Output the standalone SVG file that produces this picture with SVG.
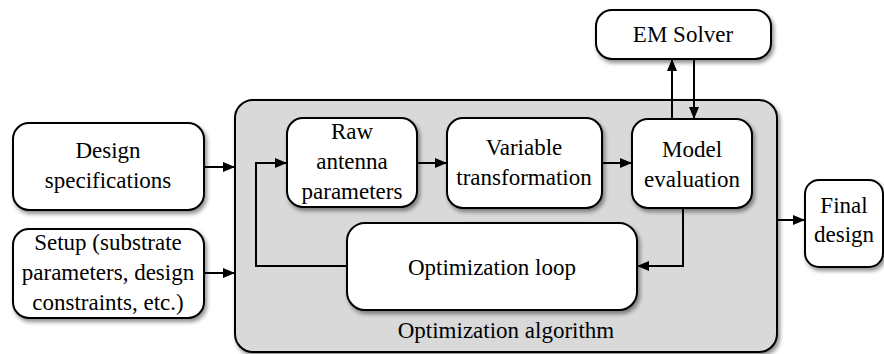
<svg xmlns="http://www.w3.org/2000/svg" width="884" height="354" viewBox="0 0 884 354">
  <style>
    .box { fill: #ffffff; stroke: #000000; stroke-width: 2; filter: url(#shadow); }
    .group { fill: #d9d9d9; stroke: #000000; stroke-width: 2; filter: url(#shadow); }
    .lbl { font-family: "Liberation Serif", "Times New Roman", serif; font-size: 23px; fill: #000000; text-anchor: middle; }
    .wire { fill: none; stroke: #000000; stroke-width: 2; }
    .arrow { marker-end: url(#head); }
  </style>
  <defs>
    <!-- soft drop shadow under every box -->
    <filter id="shadow" x="-10%" y="-10%" width="130%" height="130%">
      <feGaussianBlur in="SourceAlpha" stdDeviation="2"/>
      <feOffset dx="2" dy="3" result="blur"/>
      <feComponentTransfer><feFuncA type="linear" slope="0.45"/></feComponentTransfer>
      <feMerge><feMergeNode/><feMergeNode in="SourceGraphic"/></feMerge>
    </filter>
    <marker id="head" viewBox="0 0 12 10" refX="12" refY="5" markerWidth="12" markerHeight="10" markerUnits="userSpaceOnUse" orient="auto">
      <path d="M0,0 L12,5 L0,10 Z" fill="#000000"/>
    </marker>
  </defs>

  <g id="optimization-algorithm">
    <rect class="group" x="235" y="100" width="542" height="252" rx="18"/>
    <text class="lbl" x="506" y="338">Optimization algorithm</text>
  </g>

  <g id="design-specifications">
    <rect class="box" x="13" y="123" width="191" height="87" rx="16"/>
    <text class="lbl" x="108" y="158">Design</text>
    <text class="lbl" x="108" y="188">specifications</text>
  </g>

  <g id="setup">
    <rect class="box" x="13" y="229" width="191" height="89" rx="16"/>
    <text class="lbl" x="108" y="250">Setup (substrate</text>
    <text class="lbl" x="108" y="280">parameters, design</text>
    <text class="lbl" x="108" y="310">constraints, etc.)</text>
  </g>

  <g id="raw-antenna-parameters">
    <rect class="box" x="287" y="118" width="130" height="89" rx="16"/>
    <text class="lbl" x="352" y="139">Raw</text>
    <text class="lbl" x="352" y="169">antenna</text>
    <text class="lbl" x="352" y="199">parameters</text>
  </g>

  <g id="variable-transformation">
    <rect class="box" x="447" y="118" width="155" height="90" rx="16"/>
    <text class="lbl" x="524" y="155">Variable</text>
    <text class="lbl" x="524" y="185">transformation</text>
  </g>

  <g id="model-evaluation">
    <rect class="box" x="632" y="119" width="120" height="89" rx="16"/>
    <text class="lbl" x="692" y="157">Model</text>
    <text class="lbl" x="692" y="187">evaluation</text>
  </g>

  <g id="em-solver">
    <rect class="box" x="596" y="10" width="175" height="49" rx="16"/>
    <text class="lbl" x="683" y="42">EM Solver</text>
  </g>

  <g id="optimization-loop">
    <rect class="box" x="347" y="223" width="290" height="87" rx="18"/>
    <text class="lbl" x="492" y="275">Optimization loop</text>
  </g>

  <g id="final-design">
    <rect class="box" x="805" y="180" width="78" height="87" rx="14"/>
    <text class="lbl" x="844" y="213">Final</text>
    <text class="lbl" x="844" y="242">design</text>
  </g>

  <g id="connectors">
    <line class="wire arrow" x1="204" y1="167" x2="235" y2="167"/>
    <line class="wire arrow" x1="204" y1="273" x2="235" y2="273"/>
    <line class="wire arrow" x1="417" y1="163" x2="447" y2="163"/>
    <line class="wire arrow" x1="602" y1="163" x2="632" y2="163"/>
    <line class="wire arrow" x1="672" y1="119" x2="672" y2="59"/>
    <line class="wire arrow" x1="694" y1="59" x2="694" y2="119"/>
    <polyline class="wire arrow" points="683,208 683,266 637,266"/>
    <polyline class="wire arrow" points="347,266 256,266 256,163 287,163"/>
    <line class="wire arrow" x1="777" y1="220" x2="805" y2="220"/>
  </g>
</svg>
